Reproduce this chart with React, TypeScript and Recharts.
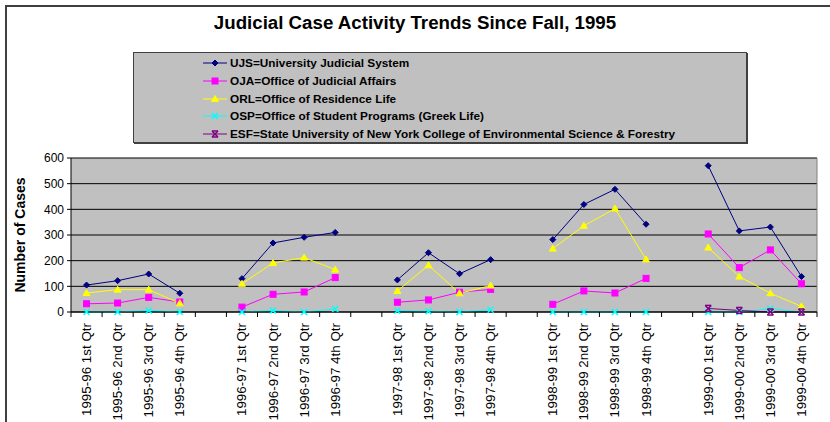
import React from "react";
import { LineChart, Line, XAxis, YAxis, CartesianGrid } from "recharts";

const FONT = '"Liberation Sans", Arial, sans-serif';

const CATEGORIES = [
  "1995-96 1st Qtr", "1995-96 2nd Qtr", "1995-96 3rd Qtr", "1995-96 4th Qtr", "",
  "1996-97 1st Qtr", "1996-97 2nd Qtr", "1996-97 3rd Qtr", "1996-97 4th Qtr", "",
  "1997-98 1st Qtr", "1997-98 2nd Qtr", "1997-98 3rd Qtr", "1997-98 4th Qtr", "",
  "1998-99 1st Qtr", "1998-99 2nd Qtr", "1998-99 3rd Qtr", "1998-99 4th Qtr", "",
  "1999-00 1st Qtr", "1999-00 2nd Qtr", "1999-00 3rd Qtr", "1999-00 4th Qtr",
];

const UJS = [105, 122, 148, 73, null, 130, 269, 291, 310, null, 125, 231, 149, 204, null, 282, 419, 478, 342, null, 570, 316, 331, 138];
const OJA = [32, 35, 57, 39, null, 19, 69, 78, 134, null, 38, 47, 77, 88, null, 30, 82, 74, 131, null, 304, 173, 242, 110];
const ORL = [74, 87, 87, 34, null, 110, 191, 212, 165, null, 82, 182, 73, 103, null, 247, 336, 403, 205, null, 251, 138, 73, 22];
const OSP = [0, 0, 6, 0, null, 0, 6, 0, 12, null, 5, 3, 0, 9, null, 0, 0, 0, 0, null, 0, 0, 13, 0];
const ESF = [null, null, null, null, null, null, null, null, null, null, null, null, null, null, null, null, null, null, null, null, 14, 6, 0, 0];

const Y_TICKS = [0, 100, 200, 300, 400, 500, 600];

const SERIES = [
  { key: "UJS", name: "UJS=University Judicial System", color: "#000080", shape: "diamond" },
  { key: "OJA", name: "OJA=Office of Judicial Affairs", color: "#ff00ff", shape: "square" },
  { key: "ORL", name: "ORL=Office of Residence Life", color: "#ffff00", shape: "triangle" },
  { key: "OSP", name: "OSP=Office of Student Programs (Greek Life)", color: "#00ffff", shape: "x" },
  { key: "ESF", name: "ESF=State University of New York College of Environmental Science & Forestry", color: "#800080", shape: "star" },
];

const data = CATEGORIES.map((label, i) => ({
  label,
  UJS: UJS[i],
  OJA: OJA[i],
  ORL: ORL[i],
  OSP: OSP[i],
  ESF: ESF[i],
}));

const W = 830;
const H = 422;
const X_AXIS_H = 110;
const MARGIN = { top: 158, right: 13, bottom: 0, left: 11 };
const Y_AXIS_W = 60;
const PLOT_W = W - MARGIN.left - Y_AXIS_W - MARGIN.right;
const BAND = PLOT_W / CATEGORIES.length;
const AXIS_Y = H - X_AXIS_H;

function Marker({ shape, cx, cy, color }: { shape: string; cx: number; cy: number; color: string }) {
  if (shape === "diamond") {
    const r = 3;
    return <polygon points={`${cx},${cy - r} ${cx + r},${cy} ${cx},${cy + r} ${cx - r},${cy}`} fill={color} stroke={color} />;
  }
  if (shape === "square") {
    return <rect x={cx - 3} y={cy - 3} width={6} height={6} fill={color} stroke={color} />;
  }
  if (shape === "triangle") {
    return <polygon points={`${cx},${cy - 3.5} ${cx + 3.5},${cy + 2.5} ${cx - 3.5},${cy + 2.5}`} fill={color} stroke={color} />;
  }
  if (shape === "x") {
    return (
      <g stroke={color} strokeWidth={1.5}>
        <line x1={cx - 3} y1={cy - 3} x2={cx + 3} y2={cy + 3} />
        <line x1={cx - 3} y1={cy + 3} x2={cx + 3} y2={cy - 3} />
      </g>
    );
  }
  return (
    <g stroke={color} strokeWidth={1.5}>
      <line x1={cx - 3} y1={cy - 3} x2={cx + 3} y2={cy + 3} />
      <line x1={cx - 3} y1={cy + 3} x2={cx + 3} y2={cy - 3} />
      <line x1={cx - 3} y1={cy - 3} x2={cx + 3} y2={cy - 3} />
      <line x1={cx - 3} y1={cy + 3} x2={cx + 3} y2={cy + 3} />
    </g>
  );
}

function makeDot(shape: string, color: string) {
  return (props: any) => {
    const { cx, cy, value, index } = props;
    if (value == null || cx == null || cy == null) return <g key={index} />;
    return <Marker key={index} shape={shape} cx={cx} cy={cy} color={color} />;
  };
}

function XTick(props: any) {
  const { x, payload, index } = props;
  const half = BAND / 2;
  return (
    <g>
      <line x1={x - half} x2={x - half} y1={AXIS_Y} y2={AXIS_Y + 5} stroke="#000" />
      {index === CATEGORIES.length - 1 && (
        <line x1={x + half} x2={x + half} y1={AXIS_Y} y2={AXIS_Y + 5} stroke="#000" />
      )}
      <text
        transform={`translate(${x + 4.5},${AXIS_Y + 11}) rotate(-90)`}
        textAnchor="end"
        fontSize={13.4}
        fontFamily={FONT}
        fill="#000"
      >
        {payload.value}
      </text>
    </g>
  );
}

function LegendBox() {
  return (
    <div
      style={{
        position: "absolute",
        left: 133,
        top: 52,
        width: 614,
        height: 91,
        background: "#c0c0c0",
        border: "1px solid #404040",
        boxShadow: "1px 1px 0 #404040",
        fontFamily: FONT,
        fontWeight: "bold",
        fontSize: 11.8,
        boxSizing: "border-box",
      }}
    >
      {SERIES.map((s, i) => (
        <div
          key={s.key}
          style={{ position: "absolute", left: 69, top: 1 + i * 17.8, height: 18, display: "flex", alignItems: "center", whiteSpace: "nowrap" }}
        >
          <svg width={24} height={10} style={{ marginRight: 3 }}>
            <line x1={0} x2={24} y1={5} y2={5} stroke={s.color} strokeWidth={1} />
            <Marker shape={s.shape} cx={12} cy={5} color={s.color} />
          </svg>
          <span>{s.name}</span>
        </div>
      ))}
    </div>
  );
}

export default function App() {
  return (
    <div style={{ position: "absolute", left: 0, top: 0, width: W, height: H, overflow: "hidden", background: "#fff" }}>
      <div style={{ position: "absolute", left: 5, top: 5, width: 900, height: 600, border: "2px solid #404040" }} />
      <div
        style={{
          position: "absolute",
          left: 0,
          top: 12,
          width: W,
          textAlign: "center",
          fontFamily: FONT,
          fontWeight: "bold",
          fontSize: 18.7,
        }}
      >
        Judicial Case Activity Trends Since Fall, 1995
      </div>
      <LegendBox />
      <svg style={{ position: "absolute", left: 0, top: 0 }} width={W} height={H}>
        <text
          transform={`translate(25,${MARGIN.top + (AXIS_Y - MARGIN.top) / 2}) rotate(-90)`}
          textAnchor="middle"
          fontFamily={FONT}
          fontWeight="bold"
          fontSize={14}
        >
          Number of Cases
        </text>
      </svg>
      <div style={{ position: "absolute", left: 0, top: 0 }}>
        <LineChart width={W} height={H} data={data} margin={MARGIN}>
          <CartesianGrid vertical={false} stroke="#000" fill="#c0c0c0" fillOpacity={1} />
          <CartesianGrid
            horizontal={false}
            stroke="#808080"
            verticalCoordinatesGenerator={({ offset }: any) => [offset.left + offset.width]}
          />
          <XAxis
            dataKey="label"
            interval={0}
            tickLine={false}
            tick={<XTick />}
            axisLine={{ stroke: "#000" }}
            padding={{ left: BAND / 2, right: BAND / 2 }}
            height={X_AXIS_H}
          />
          <YAxis
            domain={[0, 600]}
            ticks={Y_TICKS}
            width={Y_AXIS_W}
            tickSize={4}
            tickMargin={3}
            axisLine={{ stroke: "#000" }}
            tickLine={{ stroke: "#000" }}
            tick={{ fontSize: 12, fill: "#000", fontFamily: FONT }}
          />
          {SERIES.map((s) => (
            <Line
              key={s.key}
              dataKey={s.key}
              name={s.name}
              stroke={s.color}
              strokeWidth={1}
              dot={makeDot(s.shape, s.color)}
              activeDot={false}
              isAnimationActive={false}
            />
          ))}
        </LineChart>
      </div>
    </div>
  );
}
